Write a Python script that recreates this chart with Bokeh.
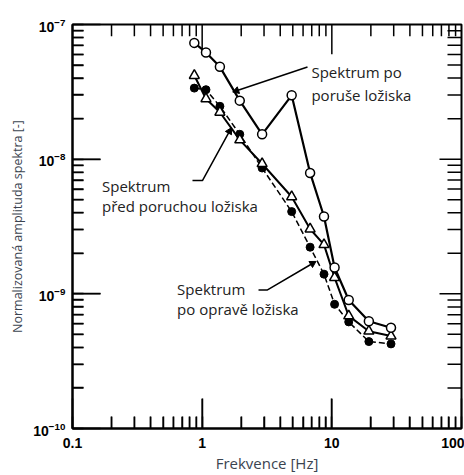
import math
from bokeh.plotting import figure
from bokeh.models import CustomJSTickFormatter, ColumnDataSource
from bokeh.core.properties import value
from bokeh.embed import file_html
from bokeh.resources import INLINE

# ---- data ----
freq = [0.87, 1.07, 1.37, 1.95, 2.9, 4.9, 6.8, 8.7, 10.5, 13.5, 19.3, 28.6]
after_damage = [7.3e-8, 6.2e-8, 4.85e-8, 2.72e-8, 1.53e-8, 2.98e-8, 7.9e-9, 3.75e-9, 1.57e-9, 9.0e-10, 6.26e-10, 5.6e-10]
before_damage = [4.18e-8, 2.81e-8, 2.23e-8, 1.39e-8, 9.25e-9, 5.26e-9, 3.03e-9, 2.32e-9, 1.32e-9, 6.86e-10, 5.28e-10, 4.86e-10]
after_repair = [3.37e-8, 3.28e-8, 2.47e-8, 1.53e-8, 8.6e-9, 4.08e-9, 2.22e-9, 1.40e-9, 8.36e-10, 6.19e-10, 4.42e-10, 4.25e-10]

x_range = (0.1, 100)
y_range = (1e-10, 1e-7)

# inner tick positions (axis structure)
x_major_inner = [1, 10]
x_minor = [m * d for d in (0.1, 1, 10) for m in range(2, 10)]
y_major_inner = [1e-9, 1e-8]
y_minor = [m * d for d in (1e-10, 1e-9, 1e-8) for m in range(2, 10)]

# annotation texts and positions (data units)
ann_text = ["Spektrum po", "poruše ložiska", "Spektrum", "před poruchou ložiska", "Spektrum", "po opravě ložiska"]
ann_x = [6.96, 6.96, 0.169, 0.169, 0.641, 0.641]
ann_y = [4.44e-8, 3.01e-8, 6.37e-9, 4.47e-9, 1.08e-9, 7.7e-10]

# leaders: polyline points; last point is the arrow tip
leaders = [
    ([6.49, 1.84], [4.83e-8, 3.22e-8]),
    ([0.842, 1.005, 1.623], [6.93e-9, 6.93e-9, 1.61e-8]),
    ([2.72, 3.19, 7.09], [1.07e-9, 1.07e-9, 1.68e-9]),
]

W, H = 464, 475
BL, BR, BT, BB = 72, 3, 24, 42

p = figure(width=W, height=H, x_axis_type="log", y_axis_type="log",
           x_range=x_range, y_range=y_range, output_backend="svg", toolbar_location=None,
           min_border_left=BL, min_border_right=BR, min_border_top=BT, min_border_bottom=BB)
p.grid.visible = False
p.outline_line_color = "black"
p.outline_line_width = 2

xa = p.xaxis[0]
ya = p.yaxis[0]
for ax in (xa, ya):
    ax.axis_line_color = "black"
    ax.axis_line_width = 2
    ax.major_tick_line_color = "black"
    ax.major_tick_line_width = 1.5
    ax.minor_tick_line_color = "black"
    ax.minor_tick_line_width = 1.5
    ax.major_tick_out = 0
    ax.minor_tick_out = 0
    ax.major_label_text_font = "Liberation Sans"
    ax.major_label_text_font_size = "14px"
    ax.major_label_text_font_style = "bold"
    ax.major_label_text_color = "black"
    ax.axis_label_text_font = "Open Sans"
    ax.axis_label_text_font_style = "normal"
    ax.axis_label_text_color = "#3b4450"
xa.major_tick_in = 30
xa.minor_tick_in = 12
ya.major_tick_in = 28
ya.minor_tick_in = 11
xa.formatter = CustomJSTickFormatter(code="return tick < 1 ? tick.toFixed(1) : tick.toFixed(0);")
xa.major_label_standoff = 9
ya.major_label_standoff = 7
xa.axis_label = "Frekvence [Hz]"
ya.axis_label = "Normalizovaná amplituda spektra [-]"
xa.axis_label_text_font_size = "15px"
ya.axis_label_text_font_size = "12.5px"
xa.axis_label_standoff = 2
ya.axis_label_standoff = 4

# pixel scale of the frame (for tick lengths and arrow-head angles)
px_x = (W - BL - BR) / math.log10(x_range[1] / x_range[0])
px_y = (H - BT - BB) / math.log10(y_range[1] / y_range[0])

def shift(edge, length, per_dec, sign):
    return 10 ** (math.log10(edge) + sign * length / per_dec)

# inward ticks on all four sides, drawn as line segments
sx0, sy0, sx1, sy1 = [], [], [], []
def add_x_ticks(vals, length, edge, sign):
    y1 = shift(edge, length, px_y, sign)
    for v in vals:
        sx0.append(v); sx1.append(v); sy0.append(edge); sy1.append(y1)

def add_y_ticks(vals, length, edge, sign):
    x1 = shift(edge, length, px_x, sign)
    for v in vals:
        sy0.append(v); sy1.append(v); sx0.append(edge); sx1.append(x1)

add_x_ticks(x_major_inner, 30, y_range[0], +1)
add_x_ticks(x_minor, 12, y_range[0], +1)
add_x_ticks(x_major_inner, 30, y_range[1], -1)
add_x_ticks(x_minor, 12, y_range[1], -1)
add_y_ticks(y_major_inner, 28, x_range[0], +1)
add_y_ticks(y_minor, 11, x_range[0], +1)
add_y_ticks(y_major_inner, 22, x_range[1], -1)
add_y_ticks(y_minor, 14, x_range[1], -1)
p.segment(x0=sx0, y0=sy0, x1=sx1, y1=sy1, line_color="black", line_width=1.5)

# series
p.line(freq, after_repair, line_color="black", line_width=1.5, line_dash="6 3")
p.scatter(freq, after_repair, marker="circle", size=8, fill_color="black", line_color="black")

p.line(freq, before_damage, line_color="black", line_width=2)
p.scatter(freq, before_damage, marker="triangle", size=10, fill_color="white", line_color="black", line_width=1.5)

p.line(freq, after_damage, line_color="black", line_width=2.2)
p.scatter(freq, after_damage, marker="circle", size=9, fill_color="white", line_color="black", line_width=1.5)

# leaders with small arrow heads (head drawn as a rotated triangle marker at the tip)
head_x, head_y, head_a = [], [], []
for lx, ly in leaders:
    p.line(lx, ly, line_color="black", line_width=1.5)
    dx = math.log10(lx[-1] / lx[-2]) * px_x
    dy = math.log10(ly[-1] / ly[-2]) * px_y
    head_x.append(lx[-1])
    head_y.append(ly[-1])
    head_a.append(math.atan2(dy, dx) - math.pi / 2)
p.scatter(head_x, head_y, marker="triangle", size=7, angle=head_a,
          fill_color="black", line_color="black")

src = ColumnDataSource(dict(x=ann_x, y=ann_y, t=ann_text))
p.text(x="x", y="y", text="t", source=src, text_font=value("Open Sans"), text_font_size="15px",
       text_baseline="middle", text_align="left", text_color="#222222")

open("out.html", "w").write(file_html(p, INLINE))
